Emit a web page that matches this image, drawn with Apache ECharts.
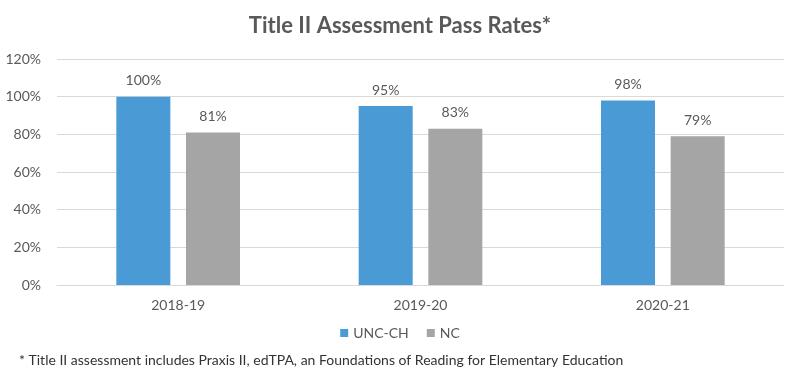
<!DOCTYPE html>
<html>
<head>
<meta charset="utf-8">
<script src="https://cdn.jsdelivr.net/npm/echarts@6/dist/echarts.min.js"></script>
<style>
  html, body { margin: 0; padding: 0; background: #fff; }
  #chart { width: 800px; height: 376px; }
</style>
</head>
<body>
<div id="chart"></div>
<script>
// Pass rates by academic year
const years  = ['2018-19', '2019-20', '2020-21']
const uncCh  = [100, 95, 98]
const nc     = [81, 83, 79]
const footnote = '* Title II assessment includes Praxis II, edTPA, an Foundations of Reading for Elementary Education'

const chart = echarts.init(document.getElementById('chart'))
const txt = '#595959'
const font = 'Lato, "Open Sans", sans-serif'

chart.setOption({
  backgroundColor: '#fff',
  animation: false,
  textStyle: { fontFamily: font },
  title: [
    { text: 'Title II Assessment Pass Rates*', left: 'center', top: 10,
      textStyle: { color: txt, fontSize: 22, fontWeight: 'bold', fontFamily: font } },
    { text: footnote, left: 14, top: 348,
      textStyle: { color: '#333', fontSize: 14, fontWeight: 'normal', fontFamily: font } },
  ],
  legend: {
    top: 321, left: 'center', itemWidth: 8, itemHeight: 8, itemGap: 18,
    icon: 'rect',
    textStyle: { color: txt, fontSize: 14 },
    data: ['UNC-CH', 'NC'],
  },
  grid: { left: 57, right: 16, top: 59, bottom: 91, containLabel: false },
  xAxis: {
    type: 'category', data: years,
    axisLine: { lineStyle: { color: '#d9d9d9' } },
    axisTick: { show: false },
    axisLabel: { color: txt, fontSize: 14, margin: 13 },
  },
  yAxis: {
    type: 'value', min: 0, max: 120, interval: 20,
    axisLine: { show: false }, axisTick: { show: false },
    axisLabel: { color: txt, fontSize: 14, formatter: '{value}%', margin: 16 },
    splitLine: { lineStyle: { color: '#d9d9d9' } },
  },
  series: [
    { name: 'UNC-CH', type: 'bar', data: uncCh, barWidth: 54, barGap: '29%',
      itemStyle: { color: '#4a9bd5' },
      label: { show: true, position: 'top', distance: 9, color: txt, fontSize: 14, formatter: '{c}%' } },
    { name: 'NC', type: 'bar', data: nc, barWidth: 54,
      itemStyle: { color: '#a5a5a5' },
      label: { show: true, position: 'top', distance: 9, color: txt, fontSize: 14, formatter: '{c}%' } },
  ],
})
</script>
</body>
</html>
